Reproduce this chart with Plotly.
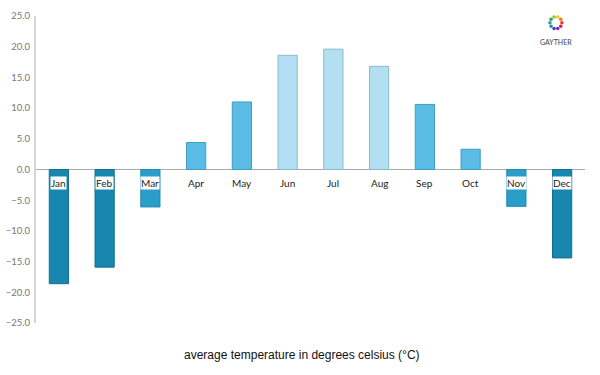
import plotly.graph_objects as go
import math

months = ["Jan", "Feb", "Mar", "Apr", "May", "Jun", "Jul", "Aug", "Sep", "Oct", "Nov", "Dec"]
temps = [-18.6, -15.9, -6.1, 4.4, 11.0, 18.6, 19.6, 16.8, 10.6, 3.3, -6.0, -14.4]
bar_colors = ["#1787b0", "#1787b0", "#2a9dc8", "#5bbde6", "#5bbde6", "#b2e0f2",
              "#b2e0f2", "#b2e0f2", "#5bbde6", "#5bbde6", "#2a9dc8", "#1787b0"]
line_colors = ["#136f91", "#136f91", "#2489b0", "#3f9ec6", "#3f9ec6", "#8fb8c8",
               "#8fb8c8", "#8fb8c8", "#3f9ec6", "#3f9ec6", "#2489b0", "#136f91"]
title_text = "average temperature in degrees celsius (°C)"
logo_colors = ["#e53935", "#f57c00", "#fbc02d", "#8bc34a", "#43a047", "#26a69a",
               "#1e88e5", "#3949ab", "#8e24aa", "#d81b60"]

fig = go.Figure()
fig.add_trace(go.Bar(
    x=months, y=temps, width=0.42,
    marker=dict(color=bar_colors, line=dict(color=line_colors, width=1)),
    hoverinfo="x+y",
))

annotations = []
for m, t in zip(months, temps):
    annotations.append(dict(
        x=m, y=0, xref="x", yref="y", text=m, showarrow=False,
        yanchor="top", yshift=-6,
        font=dict(family="Lato", size=10, color="#222"),
        bgcolor="white" if t < 0 else "rgba(0,0,0,0)", borderpad=0,
    ))
annotations.append(dict(
    x=0.4845, y=-0.104, xref="paper", yref="paper", text=title_text,
    showarrow=False, xanchor="center", yanchor="middle",
    font=dict(family="Liberation Sans", size=12, color="#111"),
))
annotations.append(dict(
    x=0.947, y=0.915, xref="paper", yref="paper", text="GAYTHER",
    showarrow=False, xanchor="center", yanchor="middle",
    font=dict(family="Lato", size=7, color="#444"),
))

shapes = []
cx, cy = 0.947, 0.978
for i, c in enumerate(logo_colors):
    a = 2 * math.pi * i / len(logo_colors)
    px = cx + 6 * math.cos(a) / 549
    py = cy + 6 * math.sin(a) / 307
    shapes.append(dict(type="circle", xref="paper", yref="paper",
                       x0=px - 1.8 / 549, x1=px + 1.8 / 549,
                       y0=py - 1.8 / 307, y1=py + 1.8 / 307,
                       fillcolor=c, line=dict(width=0)))

fig.update_layout(
    width=600, height=375,
    margin=dict(l=36, r=15, t=16, b=52),
    paper_bgcolor="white", plot_bgcolor="white",
    showlegend=False,
    annotations=annotations,
    shapes=shapes,
    xaxis=dict(showticklabels=False, showgrid=False, zeroline=False, showline=False,
               ticks="", automargin=False),
    yaxis=dict(range=[-25, 25], dtick=5, tick0=0, tickformat=".1f",
               showgrid=False, zeroline=True, zerolinecolor="#aaaaaa", zerolinewidth=1,
               showline=True, linecolor="#d6d6d6", linewidth=2, ticks="",
               automargin=False, ticklabelstandoff=2,
               tickfont=dict(family="Lato", size=9.5, color="#777")),
)

fig.write_html("out.html", config={"displayModeBar": False},
               post_script="document.body.style.margin='0';")
